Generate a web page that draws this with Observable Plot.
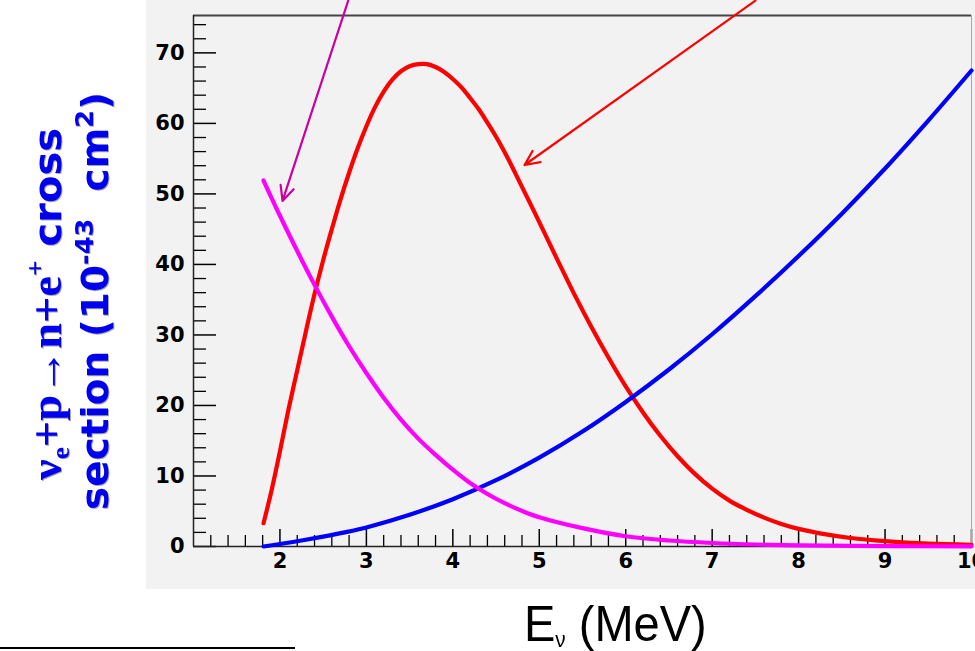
<!DOCTYPE html>
<html><head><meta charset="utf-8">
<script src="https://cdn.jsdelivr.net/npm/d3@7"></script>
<script src="https://cdn.jsdelivr.net/npm/@observablehq/plot@0.6"></script>
<style>
html,body{margin:0;padding:0;background:#fff;}
#wrap{position:relative;width:975px;height:651px;overflow:hidden;}
#panel{position:absolute;left:146px;top:0;width:829px;height:589px;background:#f2f2f2;}
#chart{position:absolute;left:0;top:0;}
#xtitle{position:absolute;left:524px;top:599px;font-family:"Liberation Sans",Arial,sans-serif;font-size:50px;line-height:50px;color:#000;white-space:nowrap;transform:scaleX(0.94);transform-origin:left top;}
#xtitle .nu{font-size:22px;position:relative;top:6px;}
#rule{position:absolute;left:0;top:647px;width:295px;height:2px;background:#000;}
</style></head>
<body>
<div id="wrap">
  <div id="panel"></div>
  <div id="chart"></div>
  <div id="xtitle">E<span class="nu">ν</span> (MeV)</div>
  <div id="rule"></div>
</div>
<script>
// Red curve: detected spectrum (flux x cross section)
const redE = [1.81,1.9,2.0,2.1,2.2,2.3,2.4,2.5,2.6,2.7,2.8,2.9,3.0,3.1,3.2,3.3,3.4,3.5,3.6,3.7,3.8,3.9,4.0,4.1,4.2,4.3,4.4,4.5,4.6,4.7,4.8,5.0,5.2,5.4,5.6,5.8,6.0,6.2,6.4,6.6,6.8,7.0,7.2,7.4,7.6,7.8,8.0,8.3,8.6,9.0,9.5,10.0];
const redVal = [3.3,7.8,13.5,19.5,25.0,30.5,35.8,40.6,45.0,49.2,53.0,56.5,59.6,62.3,64.5,66.2,67.4,68.1,68.4,68.4,68.0,67.3,66.3,65.1,63.6,62.0,60.1,58.1,55.9,53.5,51.0,46.0,40.9,35.9,31.2,26.8,22.7,19.0,15.7,12.8,10.3,8.2,6.5,5.2,4.1,3.2,2.5,1.75,1.2,0.75,0.4,0.25];
// Blue curve: cross section
const blueE = [1.81,2.0,2.25,2.5,2.75,3.0,3.5,4.0,4.5,5.0,5.5,6.0,6.5,7.0,7.5,8.0,8.5,9.0,9.5,10.0];
const blueVal = [0,0.35,0.85,1.4,2.0,2.7,4.5,6.7,9.4,12.6,16.3,20.5,25.1,30.1,35.5,41.2,47.2,53.6,60.4,67.5];
// Magenta curve: flux
const magE = [1.81,2.0,2.2,2.4,2.6,2.8,3.0,3.2,3.4,3.6,3.8,4.0,4.2,4.4,4.6,4.8,5.0,5.5,6.0,6.5,7.0,7.5,8.0,9.0,10.0];
const magVal = [51.9,46.9,41.9,37.1,32.6,28.4,24.6,21.1,18.0,15.3,13.0,10.9,9.0,7.45,6.15,5.05,4.15,2.6,1.45,0.85,0.5,0.28,0.15,0.05,0.02];
// Annotation arrows
const arrowX1 = [2.79, 7.50];
const arrowY1 = [77.4, 77.4];
const arrowX2 = [2.03, 4.83];
const arrowY2 = [49.0, 54.1];
const arrowColor = ["#cc00a0", "#ff0000"];
// Axes
const xDomain = [1, 10];
const yDomain = [0, 75.3];
const xMajor = [2,3,4,5,6,7,8,9,10];
const xMinor = d3.range(6, 50).map(i => i/5).filter(v => Math.abs(v - Math.round(v)) > 1e-6);
const yMajor = [0,10,20,30,40,50,60,70];
const yMinor = d3.range(1, 38).map(i => i*2).filter(v => v % 10 !== 0);

const toRows = (xs, ys) => xs.map((x, i) => ({x, y: ys[i]}));
const red = toRows(redE, redVal);
const blue = toRows(blueE, blueVal);
const mag = toRows(magE, magVal);
const arrows = arrowX1.map((d, i) => ({x1: d, y1: arrowY1[i], x2: arrowX2[i], y2: arrowY2[i], c: arrowColor[i]}));

const W = 975, H = 589, ML = 193, MR = 4, MT = 15, MB = 43;
const pw = W - ML - MR, ph = H - MT - MB;
const lab = {fontSize: 21, fontWeight: "bold", fontFamily: "DejaVu Sans", fill: "#000"};

const chart = Plot.plot({
  width: W, height: H,
  marginLeft: ML, marginRight: MR, marginTop: MT, marginBottom: MB,
  style: {background: "transparent", overflow: "visible"},
  x: {domain: xDomain, label: null},
  y: {domain: yDomain, label: null},
  marks: [
    Plot.tickX(xMinor, {x: d => d, insetTop: ph - 11, stroke: "#000", strokeWidth: 1.3}),
    Plot.tickX(xMajor, {x: d => d, insetTop: ph - 17, stroke: "#000", strokeWidth: 1.5}),
    Plot.tickY(yMinor, {y: d => d, insetRight: pw - 13, stroke: "#000", strokeWidth: 1.3}),
    Plot.tickY(yMajor, {y: d => d, insetRight: pw - 23, stroke: "#000", strokeWidth: 1.5}),
    Plot.ruleY([yDomain[1]], {stroke: "#444", strokeWidth: 2}),
    Plot.ruleX([xDomain[1]], {stroke: "#aaa", strokeWidth: 1}),
    Plot.ruleX([xDomain[0]], {stroke: "#222", strokeWidth: 1.5}),
    Plot.ruleY([yDomain[0]], {stroke: "#222", strokeWidth: 1.5}),
    Plot.axisX(xMajor, {tickSize: 0, tickPadding: 7, label: null, ...lab}),
    Plot.axisY(yMajor, {tickSize: 0, tickPadding: 9, label: null, ...lab}),
    Plot.line(red, {x: "x", y: "y", stroke: "#ff0000", strokeWidth: 4.2, curve: "catmull-rom"}),
    Plot.line(blue, {x: "x", y: "y", stroke: "#0000ff", strokeWidth: 4.2, curve: "catmull-rom"}),
    Plot.line(mag, {x: "x", y: "y", stroke: "#ff00ff", strokeWidth: 4.2, curve: "catmull-rom"}),
    Plot.arrow(arrows, {x1: "x1", y1: "y1", x2: "x2", y2: "y2", stroke: "c", strokeWidth: 2.2, headLength: 11, headAngle: 50})
  ]
});
document.getElementById("chart").appendChild(chart);

// y-axis title
const svg = d3.select(chart);
const g = svg.append("g").attr("fill", "#0000f0")
  .style("filter", "drop-shadow(1.5px 1.5px 0.6px rgba(0,0,0,0.35))");
const serif = "Liberation Serif, Times New Roman, serif";
const sans = "DejaVu Sans, Verdana, sans-serif";
const t1 = g.append("text")
  .attr("transform", "translate(61,304) rotate(-90)")
  .attr("text-anchor", "middle")
  .attr("textLength", 352).attr("lengthAdjust", "spacingAndGlyphs");
t1.append("tspan").attr("font-family", serif).attr("font-weight", "bold").attr("font-size", 44).text("ν");
t1.append("tspan").attr("font-family", serif).attr("font-weight", "bold").attr("font-size", 26).attr("dy", 8).text("e");
t1.append("tspan").attr("font-family", serif).attr("font-weight", "bold").attr("font-size", 44).attr("dy", -8).text("+p→n+e");
t1.append("tspan").attr("font-family", serif).attr("font-weight", "bold").attr("font-size", 26).attr("dy", -17).text("+");
t1.append("tspan").attr("font-family", sans).attr("font-weight", "bold").attr("font-size", 38).attr("dy", 17).text(" cross");

const t2 = g.append("text")
  .attr("transform", "translate(108,301) rotate(-90)")
  .attr("text-anchor", "middle")
  .attr("font-family", sans).attr("font-weight", "bold")
  .attr("textLength", 418).attr("lengthAdjust", "spacingAndGlyphs");
t2.append("tspan").attr("font-size", 38).text("section (10");
t2.append("tspan").attr("font-size", 25).attr("dy", -15).text("-43");
t2.append("tspan").attr("font-size", 38).attr("dy", 15).text("  cm");
t2.append("tspan").attr("font-size", 25).attr("dy", -15).text("2");
t2.append("tspan").attr("font-size", 38).attr("dy", 15).text(")");
</script>
</body></html>
